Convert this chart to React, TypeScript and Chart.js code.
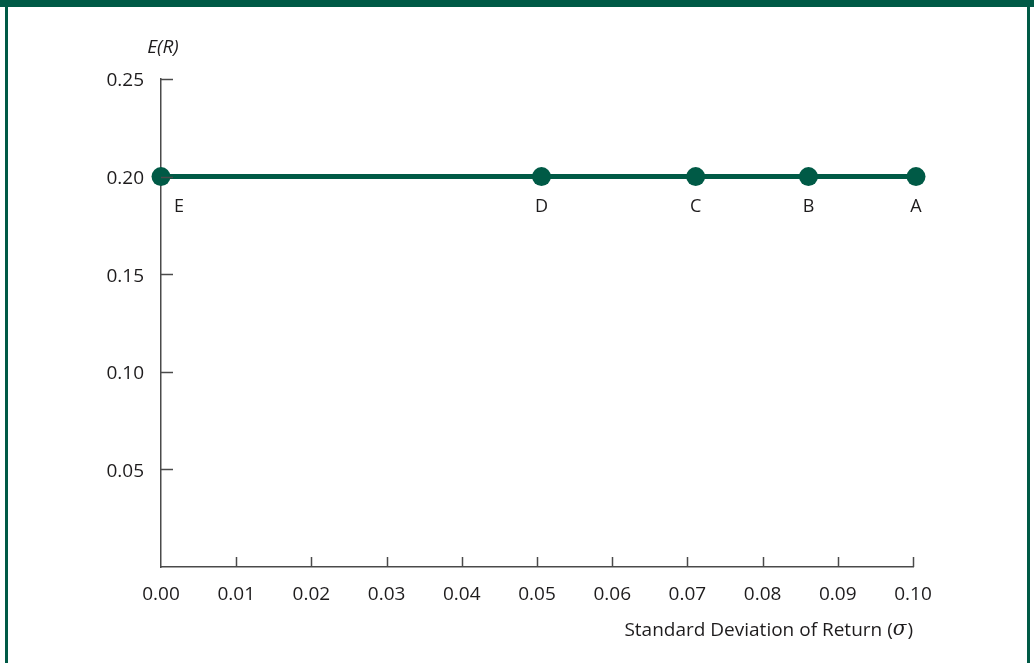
import React, { useEffect, useRef } from "react";
import { Chart, registerables } from "chart.js";

Chart.register(...registerables);

// ---- data ----
const pointNames = ["E", "D", "C", "B", "A"];
const sigmaValues = [0.0, 0.0506, 0.0711, 0.0861, 0.1004];
const returnValues = [0.2, 0.2, 0.2, 0.2, 0.2];
const xTickValues = [0, 0.01, 0.02, 0.03, 0.04, 0.05, 0.06, 0.07, 0.08, 0.09, 0.1];
const yTickValues = [0, 0.05, 0.1, 0.15, 0.2, 0.25];
const xTitle = "Standard Deviation of Return (";
const xTitleSymbol = "\u03C3";
const yTitle = "E(R)";

const GREEN = "#005a46";
const AXIS = "#4a4a4a";
const TEXT = "#1e1c1d";
const FONT = "'Open Sans', 'Noto Sans', sans-serif";

const decorPlugin = {
  id: "decor",
  afterDraw(chart: any) {
    const ctx = chart.ctx;
    const xs = chart.scales.x;
    const ys = chart.scales.y;
    const area = chart.chartArea;
    ctx.save();
    // inward tick marks
    ctx.strokeStyle = AXIS;
    ctx.lineWidth = 1.5;
    yTickValues.forEach((v) => {
      if (v === 0) return;
      const py = Math.round(ys.getPixelForValue(v)) + 0.5;
      ctx.beginPath();
      ctx.moveTo(area.left, py);
      ctx.lineTo(area.left + 12, py);
      ctx.stroke();
    });
    xTickValues.forEach((v) => {
      if (v === 0) return;
      const px = Math.round(xs.getPixelForValue(v)) + 0.5;
      ctx.beginPath();
      ctx.moveTo(px, area.bottom);
      ctx.lineTo(px, area.bottom - 10);
      ctx.stroke();
    });
    // point labels
    ctx.fillStyle = TEXT;
    ctx.font = `18px ${FONT}`;
    ctx.textAlign = "center";
    ctx.textBaseline = "middle";
    pointNames.forEach((name, i) => {
      const px = xs.getPixelForValue(sigmaValues[i]) + (i === 0 ? 18 : 0);
      const py = ys.getPixelForValue(returnValues[i]) + 30;
      ctx.fillText(name, px, py);
    });
    // y title
    ctx.font = `italic 19px ${FONT}`;
    ctx.textAlign = "center";
    ctx.fillText(yTitle, area.left + 2, 48);
    // x title (right aligned, with italic sigma)
    ctx.textAlign = "left";
    const titleFont = `19px ${FONT}`;
    const symFont = `italic 20px 'DejaVu Serif', serif`;
    ctx.font = titleFont;
    const w1 = ctx.measureText(xTitle).width;
    ctx.font = symFont;
    const w2 = ctx.measureText(xTitleSymbol).width;
    ctx.font = titleFont;
    const w3 = ctx.measureText(")").width;
    const total = w1 + w2 + w3 + 1;
    let sx = area.right - total;
    const ty = 631;
    ctx.fillText(xTitle, sx, ty);
    sx += w1;
    ctx.font = symFont;
    ctx.fillText(xTitleSymbol, sx, ty - 1);
    sx += w2 + 1;
    ctx.font = titleFont;
    ctx.fillText(")", sx, ty);
    ctx.restore();
  },
};

export default function App() {
  const canvasRef = useRef<HTMLCanvasElement | null>(null);

  useEffect(() => {
    if (!canvasRef.current) return;
    const chart = new Chart(canvasRef.current, {
      type: "line",
      data: {
        datasets: [
          {
            data: sigmaValues.map((s, i) => ({ x: s, y: returnValues[i] })),
            borderColor: GREEN,
            backgroundColor: GREEN,
            borderWidth: 5,
            pointRadius: 9.5,
            pointHoverRadius: 9.5,
            pointBackgroundColor: GREEN,
            pointBorderWidth: 0,
            clip: false as any,
            tension: 0,
          },
        ],
      },
      options: {
        responsive: false,
        animation: false,
        events: [],
        layout: { padding: { top: 79, right: 121, left: 0, bottom: 0 } },
        plugins: {
          legend: { display: false },
          tooltip: { enabled: false },
          title: { display: false },
        },
        scales: {
          x: {
            type: "linear",
            min: 0,
            max: 0.1,
            afterFit(scale: any) {
              scale.height = 96;
            },
            afterBuildTicks(scale: any) {
              scale.ticks = xTickValues.map((v) => ({ value: v }));
            },
            grid: { display: false, drawTicks: false, tickLength: 0 },
            border: { display: true, color: AXIS, width: 1.5 },
            ticks: {
              padding: 16,
              color: TEXT,
              font: { family: FONT, size: 19 },
              maxRotation: 0,
              autoSkip: false,
              callback: (v: any) => Number(v).toFixed(2),
            },
          },
          y: {
            type: "linear",
            min: 0,
            max: 0.25,
            afterFit(scale: any) {
              scale.width = 161;
            },
            afterBuildTicks(scale: any) {
              scale.ticks = yTickValues.map((v) => ({ value: v }));
            },
            grid: { display: false, drawTicks: false, tickLength: 0 },
            border: { display: true, color: AXIS, width: 1.5 },
            ticks: {
              padding: 17,
              labelOffset: 2,
              color: TEXT,
              font: { family: FONT, size: 19 },
              autoSkip: false,
              callback: (v: any) => (Number(v) === 0 ? "" : Number(v).toFixed(2)),
            },
          },
        },
      },
      plugins: [decorPlugin],
    });
    return () => chart.destroy();
  }, []);

  return (
    <div
      style={{
        position: "absolute",
        left: 0,
        top: 0,
        width: 1034,
        height: 663,
        background: "#ffffff",
        overflow: "hidden",
      }}
    >
      <div style={{ position: "absolute", left: 0, top: 0, width: 1034, height: 7, background: GREEN }} />
      <div style={{ position: "absolute", left: 5, top: 0, width: 3, height: 663, background: GREEN }} />
      <div style={{ position: "absolute", left: 1027, top: 0, width: 3, height: 663, background: GREEN }} />
      <canvas
        ref={canvasRef}
        width={1034}
        height={663}
        style={{ position: "absolute", left: 0, top: 0, width: 1034, height: 663 }}
      />
    </div>
  );
}
